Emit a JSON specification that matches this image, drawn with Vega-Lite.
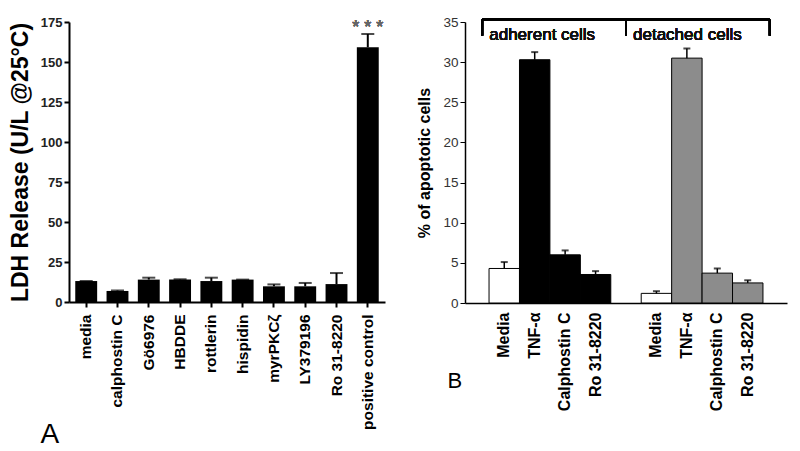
{
  "$schema": "https://vega.github.io/schema/vega-lite/v6.json",
  "padding": {"left": 9, "top": 15, "right": 5, "bottom": 5},
  "config": {
    "view": {"stroke": null},
    "font": "Liberation Sans",
    "concat": {"spacing": 31},
    "axis": {"grid": false, "domainColor": "#000", "tickColor": "#000", "labelOverlap": false}
  },
  "hconcat": [
    {
      "width": 316,
      "height": 280,
      "data": {"values": [
        {"treatment": "media", "mean": 13.1, "upper": 13.1},
        {"treatment": "calphostin C", "mean": 6.9, "upper": 7.2},
        {"treatment": "Gö6976", "mean": 14.0, "upper": 15.2},
        {"treatment": "HBDDE", "mean": 14.0, "upper": 14.2},
        {"treatment": "rottlerin", "mean": 13.1, "upper": 15.2},
        {"treatment": "hispidin", "mean": 14.0, "upper": 14.0},
        {"treatment": "myrPKCζ", "mean": 9.8, "upper": 11.0},
        {"treatment": "LY379196", "mean": 9.8, "upper": 11.9},
        {"treatment": "Ro 31-8220", "mean": 11.2, "upper": 18.1},
        {"treatment": "positive control", "mean": 159.2, "upper": 167.5}
      ]},
      "encoding": {
        "x": {
          "field": "treatment", "type": "nominal", "sort": null,
          "scale": {"paddingInner": 0.3, "paddingOuter": 0.2},
          "axis": {
            "title": "A", "titleX": -29, "titleY": 140, "titleAlign": "left", "titleBaseline": "alphabetic",
            "titleFontSize": 28, "titleFontWeight": "normal", "titleColor": "#000",
            "labelAngle": -90, "labelFontSize": 15.5, "labelFontWeight": "bold", "labelColor": "#000",
            "labelPadding": 7, "tickSize": 5, "tickWidth": 2, "domainWidth": 2
          }
        },
        "y": {
          "field": "mean", "type": "quantitative",
          "scale": {"domain": [0, 175], "nice": false},
          "axis": {
            "title": "LDH Release (U/L @25°C)", "titleFontSize": 23, "titleFontWeight": "bold", "titleColor": "#000",
            "titlePadding": 8, "values": [0, 25, 50, 75, 100, 125, 150, 175],
            "labelFontSize": 13, "labelFontWeight": "bold", "labelColor": "#222",
            "tickSize": 5, "tickWidth": 2, "domainWidth": 2
          }
        }
      },
      "layer": [
        {
          "mark": {"type": "bar", "color": "#000"}
        },
        {
          "mark": {"type": "rule", "color": "#000", "strokeWidth": 2},
          "encoding": {"y2": {"field": "upper"}}
        },
        {
          "mark": {"type": "tick", "color": "#000", "size": 13, "thickness": 2, "orient": "horizontal"},
          "encoding": {
            "y": {
              "field": "upper", "type": "quantitative",
              "axis": {
                "title": "LDH Release (U/L @25°C)", "titleFontSize": 23, "titleFontWeight": "bold", "titleColor": "#000",
                "titlePadding": 8, "values": [0, 25, 50, 75, 100, 125, 150, 175],
                "labelFontSize": 13, "labelFontWeight": "bold", "labelColor": "#222",
                "tickSize": 5, "tickWidth": 2, "domainWidth": 2
              }
            }
          }
        },
        {
          "mark": {"type": "text", "text": "* * *", "fontSize": 18, "color": "#666", "baseline": "middle"},
          "encoding": {
            "x": {"datum": "positive control"},
            "y": {
              "datum": 171,
              "axis": {
                "title": "LDH Release (U/L @25°C)", "titleFontSize": 23, "titleFontWeight": "bold", "titleColor": "#000",
                "titlePadding": 8, "values": [0, 25, 50, 75, 100, 125, 150, 175],
                "labelFontSize": 13, "labelFontWeight": "bold", "labelColor": "#222",
                "tickSize": 5, "tickWidth": 2, "domainWidth": 2
              }
            }
          }
        }
      ]
    },
    {
      "width": 322,
      "height": 281,
      "data": {"values": [
        {"slot": "adherent|Media", "series": "Media", "mean": 4.3, "upper": 5.1},
        {"slot": "adherent|TNF-α", "series": "adherent", "mean": 30.3, "upper": 31.25},
        {"slot": "adherent|Calphostin  C", "series": "adherent", "mean": 6.0, "upper": 6.55},
        {"slot": "adherent|Ro 31-8220", "series": "adherent", "mean": 3.55, "upper": 3.97},
        {"slot": "detached|Media", "series": "Media", "mean": 1.2, "upper": 1.47},
        {"slot": "detached|TNF-α", "series": "detached", "mean": 30.5, "upper": 31.7},
        {"slot": "detached|Calphostin  C", "series": "detached", "mean": 3.72, "upper": 4.3},
        {"slot": "detached|Ro 31-8220", "series": "detached", "mean": 2.5, "upper": 2.83}
      ]},
      "encoding": {
        "x": {
          "field": "slot", "type": "nominal",
          "scale": {
            "domain": ["adherent|Media", "adherent|TNF-α", "adherent|Calphostin  C", "adherent|Ro 31-8220", "gap",
                       "detached|Media", "detached|TNF-α", "detached|Calphostin  C", "detached|Ro 31-8220"],
            "paddingInner": 0, "paddingOuter": 0.79
          },
          "axis": {
            "title": "B", "titleX": -18, "titleY": 84, "titleAlign": "left", "titleBaseline": "alphabetic",
            "titleFontSize": 22, "titleFontWeight": "normal", "titleColor": "#000",
            "labelExpr": "datum.value == 'gap' ? '' : slice(datum.value, indexof(datum.value, '|') + 1)",
            "labelAngle": -90, "labelFontSize": 16, "labelFontWeight": "bold", "labelColor": "#000",
            "labelPadding": 9, "ticks": false, "domainWidth": 1.5
          }
        }
      },
      "layer": [
        {
          "mark": {"type": "bar", "stroke": "#000", "strokeWidth": 1},
          "encoding": {
            "y": {
              "field": "mean", "type": "quantitative",
              "scale": {"domain": [0, 35], "nice": false},
              "axis": {
                "title": "% of apoptotic cells", "titleFontSize": 16, "titleFontWeight": "bold", "titleColor": "#000",
                "titlePadding": 10, "values": [0, 5, 10, 15, 20, 25, 30, 35],
                "labelFontSize": 13.5, "labelColor": "#333", "tickSize": 5, "tickWidth": 1, "domainWidth": 1.5
              }
            },
            "fill": {
              "field": "series", "type": "nominal", "legend": null,
              "scale": {"domain": ["Media", "adherent", "detached"], "range": ["#ffffff", "#000000", "#8c8c8c"]}
            }
          }
        },
        {
          "mark": {"type": "rule", "color": "#000", "strokeWidth": 1.5},
          "encoding": {"y": {"field": "mean", "type": "quantitative"}, "y2": {"field": "upper"}}
        },
        {
          "mark": {"type": "tick", "color": "#000", "size": 7, "thickness": 2, "orient": "horizontal"},
          "encoding": {"y": {"field": "upper", "type": "quantitative"}}
        },
        {
          "mark": {"type": "rule", "color": "#000", "strokeWidth": 2, "xOffset": -22, "x2Offset": 22},
          "encoding": {"x": {"datum": "adherent|Media"}, "x2": {"datum": "detached|Ro 31-8220"}, "y": {"datum": 35.3}}
        },
        {
          "mark": {"type": "rule", "color": "#000", "strokeWidth": 2, "xOffset": -22},
          "encoding": {"x": {"datum": "adherent|Media"}, "y": {"datum": 33.3}, "y2": {"datum": 35.3}}
        },
        {
          "mark": {"type": "rule", "color": "#000", "strokeWidth": 2},
          "encoding": {"x": {"datum": "gap"}, "y": {"datum": 33.3}, "y2": {"datum": 35.3}}
        },
        {
          "mark": {"type": "rule", "color": "#000", "strokeWidth": 2, "xOffset": 22},
          "encoding": {"x": {"datum": "detached|Ro 31-8220"}, "y": {"datum": 33.3}, "y2": {"datum": 35.3}}
        },
        {
          "mark": {"type": "text", "text": "adherent cells", "font": "Liberation Sans", "fontSize": 17, "fontWeight": 400, "align": "left", "baseline": "alphabetic", "dx": -15, "color": "#111"},
          "encoding": {"x": {"datum": "adherent|Media"}, "y": {"datum": 32.8}}
        },
        {
          "mark": {"type": "text", "text": "detached cells", "font": "Liberation Sans", "fontSize": 17, "fontWeight": 400, "align": "left", "baseline": "alphabetic", "dx": 7, "color": "#111"},
          "encoding": {"x": {"datum": "gap"}, "y": {"datum": 32.8}}
        }
      ]
    }
  ]
}
